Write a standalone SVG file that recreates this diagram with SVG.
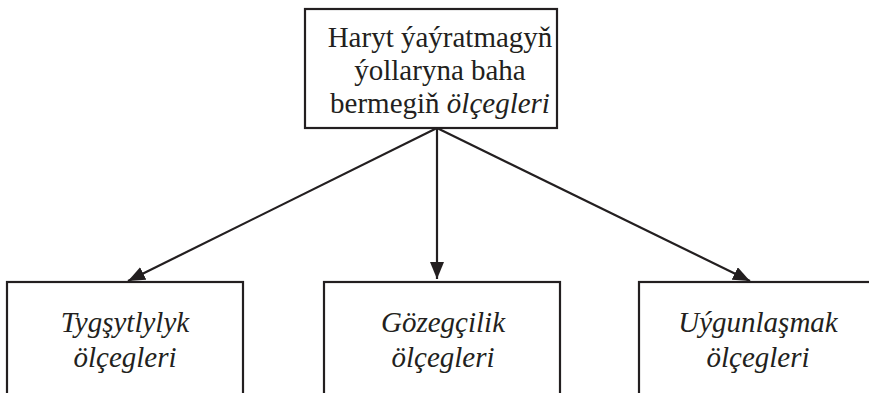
<svg xmlns="http://www.w3.org/2000/svg" width="869" height="393" viewBox="0 0 869 393">
<style>
.box{fill:#fff;stroke:#231f20;stroke-width:2.2}
text{font-family:'Liberation Serif','Times New Roman',serif;font-size:29px;fill:#231f20;text-anchor:middle}
.i{font-style:italic}
.c{stroke:#231f20;stroke-width:2.2;fill:none}
</style>
<defs>
<marker id="ah" markerUnits="userSpaceOnUse" markerWidth="18" markerHeight="14" refX="17" refY="7" orient="auto">
<path d="M0,0 L17,7 L0,14 Z" fill="#231f20"/>
</marker>
</defs>
<rect width="869" height="393" fill="#fff"/>
<g id="connectors">
<line class="c" x1="437" y1="128" x2="128" y2="281" marker-end="url(#ah)"/>
<line class="c" x1="437" y1="128" x2="437" y2="279" marker-end="url(#ah)"/>
<line class="c" x1="437" y1="128" x2="750" y2="281" marker-end="url(#ah)"/>
</g>
<g id="top">
<rect class="box" x="305" y="9" width="252" height="119"/>
<text x="440" y="47">Haryt ýaýratmagyň</text>
<text x="440" y="80">ýollaryna baha</text>
<text x="440" y="113">bermegiň <tspan class="i">ölçegleri</tspan></text>
</g>
<g id="left">
<rect class="box" x="7" y="282" width="236" height="130"/>
<text class="i" x="125" y="332">Tygşytlylyk</text>
<text class="i" x="125" y="367">ölçegleri</text>
</g>
<g id="middle">
<rect class="box" x="324" y="282" width="236" height="130"/>
<text class="i" x="443" y="332">Gözegçilik</text>
<text class="i" x="443" y="367">ölçegleri</text>
</g>
<g id="right">
<rect class="box" x="639" y="282" width="240" height="130"/>
<text class="i" x="758" y="332">Uýgunlaşmak</text>
<text class="i" x="758" y="367">ölçegleri</text>
</g>
</svg>
